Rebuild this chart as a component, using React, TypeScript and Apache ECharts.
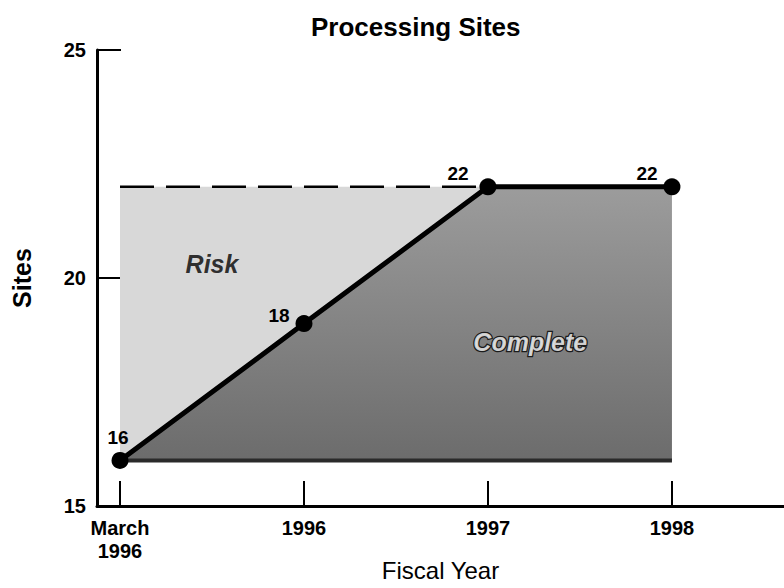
import React, { useEffect, useRef } from "react";
import * as echarts from "echarts";

const categories = ["March\n1996", "1996", "1997", "1998"];
const siteValues = [16, 19, 22, 22];
const pointLabels = ["16", "18", "22", "22"];
const riskLevel = 22;
const baseLevel = 16;
const yTicks = [15, 20, 25];
const regionNotes = [
  { name: "Risk", x: 0.5, y: 20.3 },
  { name: "Complete", x: 2.23, y: 18.6 },
];

const FONT = "'Liberation Sans', Arial, Helvetica, sans-serif";

export default function App() {
  const ref = useRef<HTMLDivElement>(null);
  useEffect(() => {
    if (!ref.current) return;
    const chart = echarts.init(ref.current, null, { renderer: "svg" });
    const lineData = siteValues.map((v, i) => [i, v]);
    const labelOffsets = [
      [-2, 0],
      [-25, 15],
      [-30, 10],
      [-25, 10],
    ];
    chart.setOption({
      animation: false,
      backgroundColor: "#ffffff",
      textStyle: { fontFamily: FONT },
      title: {
        text: "Processing Sites",
        left: 306,
        top: 9,
        textStyle: { fontFamily: FONT, fontSize: 26, fontWeight: "bold", color: "#000" },
      },
      grid: { left: 97, right: 0, top: 50, bottom: 82, containLabel: false, outerBoundsMode: "none" },
      xAxis: {
        type: "value",
        min: -0.125,
        max: 3.609,
        name: "Fiscal Year",
        nameLocation: "middle",
        nameGap: 52,
        nameMoveOverlap: false,
        nameTextStyle: { fontFamily: FONT, fontSize: 24, color: "#000" },
        splitLine: { show: false },
        axisLine: { show: true, onZero: false, lineStyle: { color: "#000", width: 3 } },
        axisTick: {
          show: true,
          inside: true,
          length: 25,
          customValues: [0, 1, 2, 3],
          lineStyle: { color: "#000", width: 2 },
        },
        axisLabel: {
          customValues: [0, 1, 2, 3],
          formatter: (v: number) => categories[Math.round(v)] ?? "",
          fontFamily: FONT,
          fontSize: 20,
          fontWeight: "bold",
          color: "#000",
          margin: 10,
          lineHeight: 23,
        },
      },
      yAxis: {
        type: "value",
        min: yTicks[0],
        max: yTicks[yTicks.length - 1],
        interval: 5,
        name: "Sites",
        nameLocation: "middle",
        nameGap: 63,
        nameRotate: 90,
        nameMoveOverlap: false,
        nameTextStyle: { fontFamily: FONT, fontSize: 25, fontWeight: "bold", color: "#000" },
        splitLine: { show: false },
        axisLine: { show: true, onZero: false, lineStyle: { color: "#000", width: 3 } },
        axisTick: { show: true, inside: true, length: 24, lineStyle: { color: "#000", width: 2 } },
        axisLabel: {
          fontFamily: FONT,
          fontSize: 20,
          fontWeight: "bold",
          color: "#000",
          margin: 11,
        },
      },
      series: [
        {
          name: "RiskArea",
          type: "line",
          data: [
            [0, riskLevel],
            [2, riskLevel],
          ],
          symbol: "none",
          lineStyle: { color: "#000", width: 2.5, type: [34, 12] },
          areaStyle: { color: "#d8d8d8", opacity: 1, origin: baseLevel },
          z: 1,
        },
        {
          name: "CompleteArea",
          type: "line",
          data: lineData,
          symbol: "none",
          lineStyle: { width: 0 },
          areaStyle: {
            opacity: 1,
            origin: baseLevel,
            color: new echarts.graphic.LinearGradient(0, 0, 0, 1, [
              { offset: 0, color: "#9c9c9c" },
              { offset: 1, color: "#6c6c6c" },
            ]),
          },
          z: 2,
        },
        {
          name: "Base",
          type: "line",
          data: [
            [0, baseLevel],
            [3, baseLevel],
          ],
          symbol: "none",
          lineStyle: { color: "#2a2a2a", width: 4 },
          z: 3,
        },
        {
          name: "Sites",
          type: "line",
          data: lineData.map((d, i) => ({
            value: d,
            label: { offset: labelOffsets[i] },
          })),
          symbol: "circle",
          symbolSize: 17,
          itemStyle: { color: "#000" },
          lineStyle: { color: "#000", width: 5 },
          label: {
            show: true,
            position: "top",
            formatter: (p: any) => pointLabels[p.dataIndex],
            fontFamily: FONT,
            fontSize: 19,
            fontWeight: "bold",
            color: "#000",
          },
          z: 5,
        },
        {
          name: "Notes",
          type: "scatter",
          data: regionNotes.map((n) => ({
            value: [n.x, n.y],
            name: n.name,
            label:
              n.name === "Complete"
                ? { color: "#ffffff", textBorderColor: "#000", textBorderWidth: 2.5 }
                : { color: "#000", textBorderWidth: 0 },
          })),
          symbolSize: 0,
          itemStyle: { color: "transparent" },
          label: {
            show: true,
            position: "inside",
            formatter: (p: any) => p.name,
            fontFamily: FONT,
            fontSize: 25,
            fontWeight: "bold",
            fontStyle: "italic",
          },
          z: 6,
        },
      ],
    });
    return () => chart.dispose();
  }, []);
  return (
    <div
      ref={ref}
      style={{ position: "absolute", left: 0, top: 0, width: 784, height: 588 }}
    />
  );
}
